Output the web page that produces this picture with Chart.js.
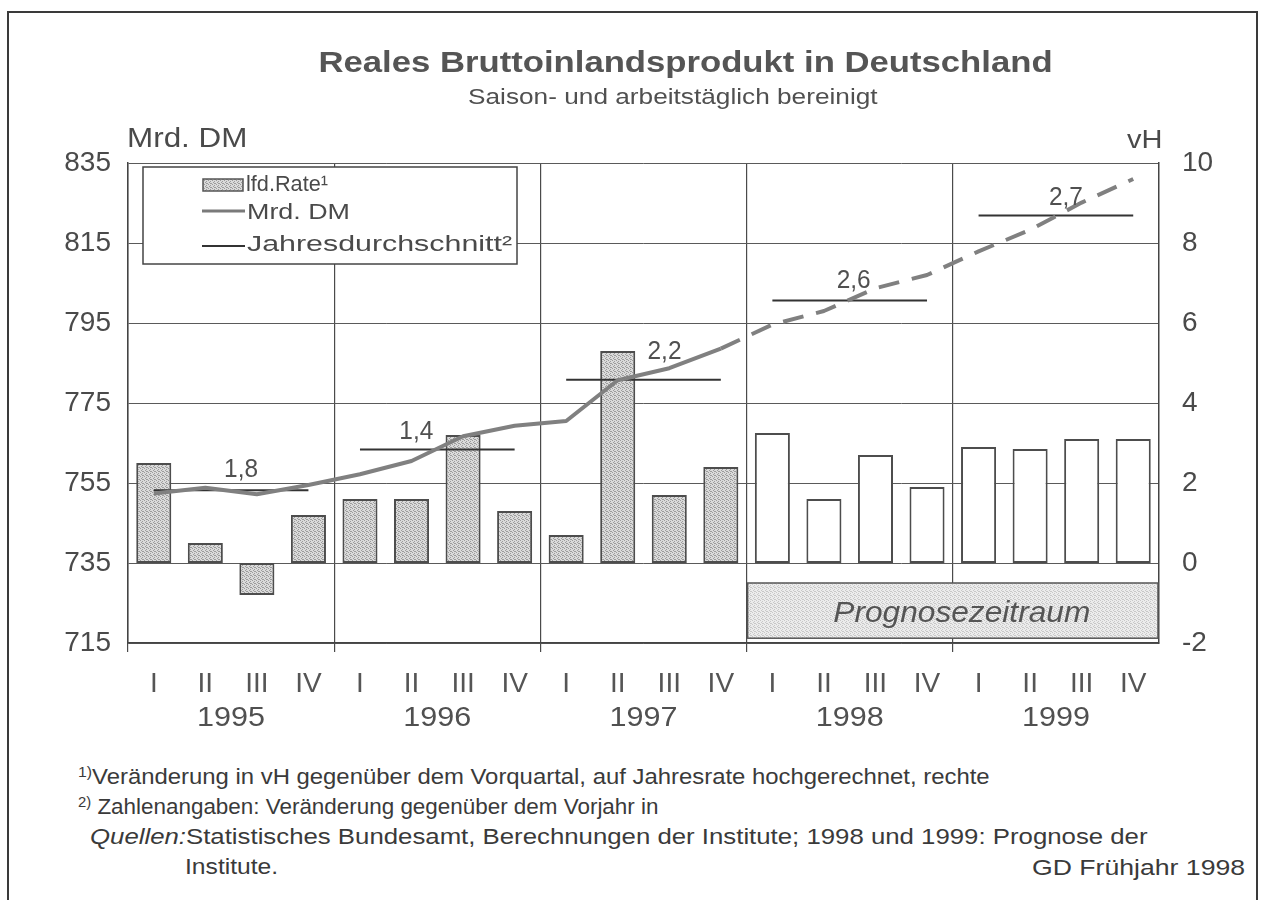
<!DOCTYPE html>
<html><head><meta charset="utf-8">
<script src="https://cdn.jsdelivr.net/npm/chart.js@4.4.1/dist/chart.umd.min.js"></script>
<style>
html,body{margin:0;padding:0;background:#fff;}
#wrap{position:relative;width:1266px;height:900px;overflow:hidden;background:#fff;font-family:"Liberation Sans",Arial,Helvetica,sans-serif;color:#4a4a4a;}
#frame{position:absolute;left:7px;top:11px;width:1251px;height:900px;border:2px solid #3a3a3a;border-bottom:none;box-sizing:border-box;}
canvas{position:absolute;left:0;top:0;}
.t{position:absolute;white-space:nowrap;line-height:1;}
sup{font-size:0.66em;vertical-align:0.5em;line-height:0;}
</style></head>
<body><div id="wrap">
<div id="frame"></div>
<canvas id="c" width="1266" height="760"></canvas>
<div class="t" data-x="685" data-cy="62" data-w="734" data-a="c" style="font-size:30px;font-weight:bold;color:#555">Reales Bruttoinlandsprodukt in Deutschland</div>
<div class="t" data-x="673" data-cy="97" data-w="410" data-a="c" style="font-size:22px;color:#505050">Saison- und arbeitstäglich bereinigt</div>
<div class="t" data-x="127" data-cy="138" data-w="121" data-a="l" style="font-size:27px;color:#4a4a4a">Mrd. DM</div>
<div class="t" data-x="1163" data-cy="139" data-w="36" data-a="r" style="font-size:25px;color:#4a4a4a">vH</div>
<div class="t" data-x="78" data-cy="777" data-w="912" data-a="l" style="font-size:22px;color:#3a3a3a"><sup>1)</sup>Veränderung in vH gegenüber dem Vorquartal, auf Jahresrate hochgerechnet, rechte</div>
<div class="t" data-x="78" data-cy="807" data-w="580" data-a="l" style="font-size:22px;color:#3a3a3a"><sup>2)</sup> Zahlenangaben: Veränderung gegenüber dem Vorjahr in</div>
<div class="t" data-x="90" data-cy="837" data-w="1058" data-a="l" style="font-size:22px;color:#3a3a3a"><i>Quellen:</i>Statistisches Bundesamt, Berechnungen der Institute; 1998 und 1999: Prognose der</div>
<div class="t" data-x="185" data-cy="867" data-w="93" data-a="l" style="font-size:22px;color:#3a3a3a">Institute.</div>
<div class="t" data-x="1245" data-cy="868" data-w="213" data-a="r" style="font-size:22px;color:#3a3a3a">GD Frühjahr 1998</div>
</div>
<script>
// ---- data ----
const quarters = ["I","II","III","IV","I","II","III","IV","I","II","III","IV","I","II","III","IV","I","II","III","IV"];
const years = ["1995","1996","1997","1998","1999"];
const lfdRate = [2.5, 0.5, -0.8, 1.2, 1.6, 1.6, 3.2, 1.3, 0.7, 5.3, 1.7, 2.4, 3.25, 1.6, 2.7, 1.9, 2.9, 2.85, 3.1, 3.1];
const mrdDM = [752.4, 753.8, 752.2, 754.5, 757.2, 760.5, 766.7, 769.3, 770.5, 780.7, 783.7, 788.6, 794.6, 798.0, 803.7, 807.0, 812.9, 818.3, 825.1, 831.0];
const annualAvg = [753.2, 763.4, 780.8, 800.6, 821.9];
const annualLabels = ["1,8", "1,4", "2,2", "2,6", "2,7"];
const forecastStart = 12; // first forecast quarter index (1998 I)
const leftTicks = {min: 715, max: 835, step: 20};
const rightTicks = {min: -2, max: 10, step: 2};

// ---- html text fitting ----
document.querySelectorAll('.t').forEach(el => {
  const w = el.offsetWidth, h = el.offsetHeight;
  const s = (+el.dataset.w) / w;
  const a = el.dataset.a, x = +el.dataset.x, cy = +el.dataset.cy;
  el.style.top = (cy - h / 2) + 'px';
  if (a === 'c') { el.style.left = (x - w / 2) + 'px'; el.style.transformOrigin = '50% 50%'; }
  else if (a === 'r') { el.style.left = (x - w) + 'px'; el.style.transformOrigin = '100% 50%'; }
  else { el.style.left = x + 'px'; el.style.transformOrigin = '0 50%'; }
  el.style.transform = 'scaleX(' + s + ')';
});

// ---- patterns ----
function stipple(base, dot) {
  const c = document.createElement('canvas'); c.width = 4; c.height = 4;
  const g = c.getContext('2d');
  g.fillStyle = base; g.fillRect(0, 0, 4, 4);
  g.fillStyle = dot;
  [[0,0],[2,1],[1,2],[3,3],[2,3]].forEach(p => g.fillRect(p[0], p[1], 1, 1));
  return g.createPattern(c, 'repeat');
}
const ctx0 = document.getElementById('c').getContext('2d');
const barPattern = stipple('#dadada', '#9c9c9c');
const boxPattern = stipple('#ececec', '#c8c8c8');

const FONT = '"Liberation Sans", Arial, Helvetica, sans-serif';
function txt(ctx, s, x, y, size, o) {
  o = o || {};
  ctx.save();
  ctx.font = (o.style || '') + ' ' + size + 'px ' + FONT;
  const m = ctx.measureText(s).width;
  const sx = o.w ? o.w / m : 1;
  ctx.translate(x, y); ctx.scale(sx, 1);
  ctx.textAlign = o.align || 'left'; ctx.textBaseline = 'middle';
  ctx.fillStyle = o.color || '#4a4a4a';
  ctx.fillText(s, 0, 0);
  ctx.restore();
}

const decor = {
  id: 'decor',
  afterDatasetsDraw(chart) {
    const ctx = chart.ctx, xs = chart.scales.x, yl = chart.scales.y, yr = chart.scales.y1, ca = chart.chartArea;
    // forecast box
    const bx0 = (xs.getPixelForValue(forecastStart - 1) + xs.getPixelForValue(forecastStart)) / 2 + 1;
    const bx1 = ca.right - 1;
    const by0 = yr.getPixelForValue(-0.5), by1 = yr.getPixelForValue(-1.88);
    ctx.save();
    ctx.fillStyle = boxPattern; ctx.fillRect(bx0, by0, bx1 - bx0, by1 - by0);
    ctx.strokeStyle = '#555'; ctx.lineWidth = 1.5; ctx.strokeRect(bx0, by0, bx1 - bx0, by1 - by0);
    ctx.restore();
    txt(ctx, 'Prognosezeitraum', (bx0 + bx1) / 2 + 9, (by0 + by1) / 2 + 3, 30, {style: 'italic', align: 'center', w: 257, color: '#555'});
    // annual labels
    const dx = [10, -21, 21, 4, 10], dy = [-20, -18, -28, -20, -18];
    annualLabels.forEach((s, i) => {
      const cx = (xs.getPixelForValue(4 * i) + xs.getPixelForValue(4 * i + 3)) / 2;
      txt(ctx, s, cx + dx[i], yl.getPixelForValue(annualAvg[i]) + dy[i], 26, {align: 'center', w: 34, color: '#505050'});
    });
    // years
    years.forEach((s, i) => {
      const cx = (xs.getPixelForValue(4 * i) + xs.getPixelForValue(4 * i + 3)) / 2;
      txt(ctx, s, cx, 719, 27, {align: 'center', w: 68, color: '#505050'});
    });
  },
  afterDraw(chart) {
    const ctx = chart.ctx;
    // legend
    ctx.save();
    ctx.fillStyle = '#fff'; ctx.fillRect(143, 167, 374, 97);
    ctx.strokeStyle = '#444'; ctx.lineWidth = 1.5; ctx.strokeRect(143, 167, 374, 97);
    ctx.fillStyle = barPattern; ctx.fillRect(203, 179, 40, 12);
    ctx.strokeStyle = '#555'; ctx.lineWidth = 1.5; ctx.strokeRect(203, 179, 40, 12);
    ctx.strokeStyle = '#7a7a7a'; ctx.lineWidth = 3;
    ctx.beginPath(); ctx.moveTo(202, 211); ctx.lineTo(245, 211); ctx.stroke();
    ctx.strokeStyle = '#333'; ctx.lineWidth = 2;
    ctx.beginPath(); ctx.moveTo(202, 246); ctx.lineTo(245, 246); ctx.stroke();
    ctx.restore();
    txt(ctx, 'lfd.Rate¹', 246, 185, 22, {w: 82, color: '#4a4a4a'});
    txt(ctx, 'Mrd. DM', 247, 213, 22, {w: 103, color: '#4a4a4a'});
    txt(ctx, 'Jahresdurchschnitt²', 247, 245, 22, {w: 265, color: '#4a4a4a'});
  }
};

const avgPerQuarter = annualAvg.flatMap(v => [v, v, v, v]);
const yearBoundaryColor = c => (c.index % 4 === 0 ? '#4a4a4a' : 'rgba(0,0,0,0)');

new Chart(ctx0, {
  type: 'bar',
  data: {
    labels: quarters,
    datasets: [
      {
        type: 'line', label: 'Mrd. DM', data: mrdDM, yAxisID: 'y', order: 0,
        borderColor: '#808080', borderWidth: 4, pointRadius: 0, tension: 0,
        borderCapStyle: 'butt', borderJoinStyle: 'round',
        segment: { borderDash: c => (c.p0DataIndex >= forecastStart - 1 ? [21, 13] : undefined) }
      },
      {
        type: 'line', label: 'Jahresdurchschnitt', data: avgPerQuarter, yAxisID: 'y', order: 1,
        borderColor: '#333', borderWidth: 2, pointRadius: 0, tension: 0,
        segment: { borderColor: c => (c.p0DataIndex % 4 === 3 ? 'rgba(0,0,0,0)' : '#333') }
      },
      {
        type: 'bar', label: 'lfd.Rate', data: lfdRate, yAxisID: 'y1', order: 2,
        backgroundColor: lfdRate.map((v, i) => (i < forecastStart ? barPattern : '#ffffff')),
        borderColor: '#4d4d4d', borderWidth: 2, borderSkipped: false,
        barPercentage: 0.68, categoryPercentage: 1.0
      }
    ]
  },
  options: {
    responsive: false, animation: false, devicePixelRatio: 1,
    layout: { padding: { top: 163, left: 0, right: 0, bottom: 0 } },
    plugins: { legend: { display: false }, tooltip: { enabled: false }, title: { display: false } },
    scales: {
      x: {
        type: 'category', offset: true,
        grid: { offset: true, color: yearBoundaryColor, tickColor: yearBoundaryColor, lineWidth: 1.2, drawTicks: true, tickLength: 9 },
        border: { display: true, color: '#444', width: 1.5 },
        ticks: { font: { size: 28, family: FONT }, color: '#555', padding: 15, maxRotation: 0, autoSkip: false },
        afterFit: s => { s.height = 760 - 643; }
      },
      y: {
        position: 'left', min: leftTicks.min, max: leftTicks.max,
        ticks: { stepSize: leftTicks.step, font: { size: 28, family: FONT }, color: '#4a4a4a', padding: 17 },
        grid: { color: '#5a5a5a', lineWidth: 1, drawTicks: false },
        border: { display: true, color: '#444', width: 1.5 },
        afterFit: s => { s.width = 128; }
      },
      y1: {
        position: 'right', min: rightTicks.min, max: rightTicks.max,
        ticks: { stepSize: rightTicks.step, font: { size: 28, family: FONT }, color: '#4a4a4a', padding: 23 },
        grid: { display: false, drawTicks: false },
        border: { display: true, color: '#444', width: 1.5 },
        afterFit: s => { s.width = 1266 - 1159; }
      }
    }
  },
  plugins: [decor]
});
</script>
</body></html>
